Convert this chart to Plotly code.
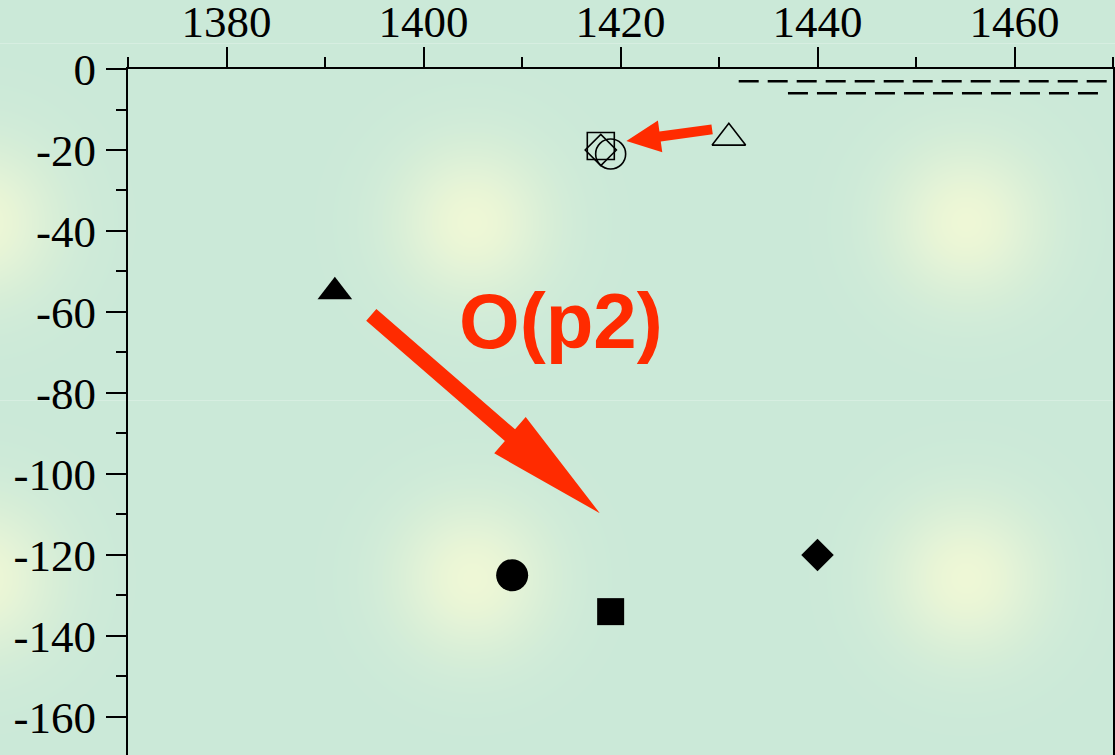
import base64
import struct
import zlib

import numpy as np
import plotly.graph_objects as go

# ---------------- data ----------------
x_major_ticks = [1380, 1400, 1420, 1440, 1460]
x_minor_ticks = [1370, 1390, 1410, 1430, 1450, 1470]
y_major_ticks = [0, -20, -40, -60, -80, -100, -120, -140, -160]
y_major_labels = ["0", "-20", "-40", "-60", "-80", "-100", "-120", "-140", "-160"]
y_minor_ticks = [-10, -30, -50, -70, -90, -110, -130, -150]

# open symbols (upper cluster)
open_symbols = ["triangle-up-open", "square-open", "diamond-open", "circle-open"]
open_x = [1431, 1418, 1418, 1419]
open_y = [-17, -19, -20, -21]
open_sizes = [29, 27, 24, 30]

# filled symbols (lower points)
filled_symbols = ["triangle-up", "circle", "square", "diamond"]
filled_x = [1391, 1409, 1419, 1440]
filled_y = [-55, -125, -134, -120]
filled_sizes = [30, 32, 27, 25]

# dashed reference lines
dash1_x = [1432, 1470]
dash1_y = [-3, -3]
dash2_x = [1437, 1469]
dash2_y = [-6, -6]

# arrows: (tail, tip) in data coords
arrow_small = ((1429.3, -14.9), (1420.6, -17.8))
arrow_big = ((1394.7, -60.7), (1417.9, -109.7))
label_text = "O(p2)"
label_pos = (1414.0, -62.3)

# ---------------- layout geometry ----------------
W, H = 1115, 755
ML, MR, MT, MB = 128, 2, 69, 0
X_RANGE = [1370, 1470]
Y_RANGE = [-169.4, 0]
PW = W - ML - MR
PH = H - MT - MB
RED = "#ff2b00"
BG = (203, 233, 216)
GLOW = (238, 247, 214)


def make_background():
    yy, xx = np.mgrid[0:H, 0:W].astype(float)
    f = np.zeros((H, W))
    for cx in (-22, 472, 966):
        for cy in (222, 578):
            d2 = (xx - cx) ** 2 + (yy - cy) ** 2
            f = np.maximum(f, np.exp(-d2 / (2 * 54.0 ** 2)))
    base = np.array(BG, float)
    glow = np.array(GLOW, float)
    img = base + (glow - base) * f[..., None]
    for ry in (43, 400):
        img[ry] = img[ry] * 0.55 + np.array([230, 245, 236.0]) * 0.45
    img = np.clip(np.round(img), 0, 255).astype(np.uint8)
    # PNG with Sub filter
    d = img.copy()
    d[:, 1:] = img[:, 1:] - img[:, :-1]
    rows = np.concatenate([np.ones((H, 1), np.uint8), d.reshape(H, -1)], axis=1)
    raw = rows.tobytes()

    def chunk(t, data):
        c = struct.pack(">I", len(data)) + t + data
        return c + struct.pack(">I", zlib.crc32(t + data) & 0xFFFFFFFF)

    png = (b"\x89PNG\r\n\x1a\n"
           + chunk(b"IHDR", struct.pack(">IIBBBBB", W, H, 8, 2, 0, 0, 0))
           + chunk(b"IDAT", zlib.compress(raw, 9))
           + chunk(b"IEND", b""))
    return "data:image/png;base64," + base64.b64encode(png).decode()


def arrow_path(tail, tip, shaft_w, head_len, head_w):
    sx = PW / (X_RANGE[1] - X_RANGE[0])
    sy = PH / (Y_RANGE[1] - Y_RANGE[0])
    t = np.array([tail[0] * sx, -tail[1] * sy])
    p = np.array([tip[0] * sx, -tip[1] * sy])
    u = (p - t) / np.linalg.norm(p - t)
    n = np.array([-u[1], u[0]])
    b = p - u * head_len
    pts = [t + n * shaft_w / 2, b + n * shaft_w / 2, b + n * head_w / 2, p,
           b - n * head_w / 2, b - n * shaft_w / 2, t - n * shaft_w / 2]
    s = ""
    for i, q in enumerate(pts):
        s += ("M" if i == 0 else "L") + f"{q[0] / sx:.4f},{-q[1] / sy:.4f} "
    return s + "Z"


fig = go.Figure()

# dashed lines are drawn on the label axis (x2, matched to x) so that axis renders
fig.add_trace(go.Scatter(x=dash1_x, y=dash1_y, mode="lines", xaxis="x2",
                         line=dict(color="black", width=2.5, dash="20px,9px"),
                         showlegend=False, hoverinfo="skip"))
fig.add_trace(go.Scatter(x=dash2_x, y=dash2_y, mode="lines", xaxis="x2",
                         line=dict(color="black", width=2.5, dash="20px,9px"),
                         showlegend=False, hoverinfo="skip"))

fig.add_trace(go.Scatter(x=open_x, y=open_y, mode="markers",
                         marker=dict(symbol=open_symbols, size=open_sizes, color="black",
                                     opacity=1, line=dict(color="black", width=1.6)),
                         showlegend=False))
fig.add_trace(go.Scatter(x=filled_x, y=filled_y, mode="markers",
                         marker=dict(symbol=filled_symbols, size=filled_sizes, color="black",
                                     opacity=1, line=dict(width=0)),
                         showlegend=False))

for (tail, tip), sw, hl, hw in [(arrow_small, 10, 34, 32), (arrow_big, 15.5, 119, 48)]:
    fig.add_shape(type="path", xref="x", yref="y",
                  path=arrow_path(tail, tip, sw, hl, hw),
                  fillcolor=RED, line=dict(width=0), layer="above")

fig.add_annotation(x=label_pos[0], y=label_pos[1], text="<b>" + label_text + "</b>",
                   showarrow=False, xanchor="center", yanchor="middle",
                   font=dict(family="Liberation Sans", size=78, color=RED))

fig.add_layout_image(source=make_background(), xref="paper", yref="paper",
                     x=-ML / PW, y=1 + MT / PH, sizex=W / PW, sizey=H / PH,
                     xanchor="left", yanchor="top", sizing="stretch", layer="below")

axis_font = dict(family="Liberation Serif", size=45, color="black")

fig.update_layout(
    xaxis=dict(range=X_RANGE, side="top", showgrid=False, zeroline=False,
               automargin=False, showticklabels=False,
               showline=True, linecolor="black", linewidth=2,
               tickmode="array", tickvals=x_major_ticks,
               ticks="outside", ticklen=20, tickwidth=1.5, tickcolor="black",
               minor=dict(tickmode="array", tickvals=x_minor_ticks, ticks="outside",
                          ticklen=10, tickwidth=1.5, tickcolor="black")),
    xaxis2=dict(range=X_RANGE, matches="x", overlaying="x", side="top",
                showgrid=False, zeroline=False, automargin=False, showline=False,
                tickmode="array", tickvals=x_major_ticks,
                ticks="outside", ticklen=13, tickcolor="rgba(0,0,0,0)",
                tickfont=axis_font),
    yaxis=dict(range=Y_RANGE, showgrid=False, zeroline=False,
               automargin=False,
               showline=True, linecolor="black", linewidth=2, mirror=True,
               tickmode="array", tickvals=y_major_ticks, ticktext=y_major_labels,
               ticks="outside", ticklen=20, tickwidth=1.5, tickcolor="black",
               tickfont=axis_font, ticklabelstandoff=1,
               minor=dict(tickmode="array", tickvals=y_minor_ticks, ticks="outside",
                          ticklen=10, tickwidth=1.5, tickcolor="black")),
    width=W, height=H,
    margin=dict(l=ML, r=MR, t=MT, b=MB, pad=0, autoexpand=False),
    paper_bgcolor="rgb(%d,%d,%d)" % BG,
    plot_bgcolor="rgba(0,0,0,0)",
    showlegend=False,
)

fig.write_html("out.html",
               config={"displayModeBar": False},
               post_script="document.body.style.margin='0';"
                           "document.body.style.background='rgb(203,233,216)';")
